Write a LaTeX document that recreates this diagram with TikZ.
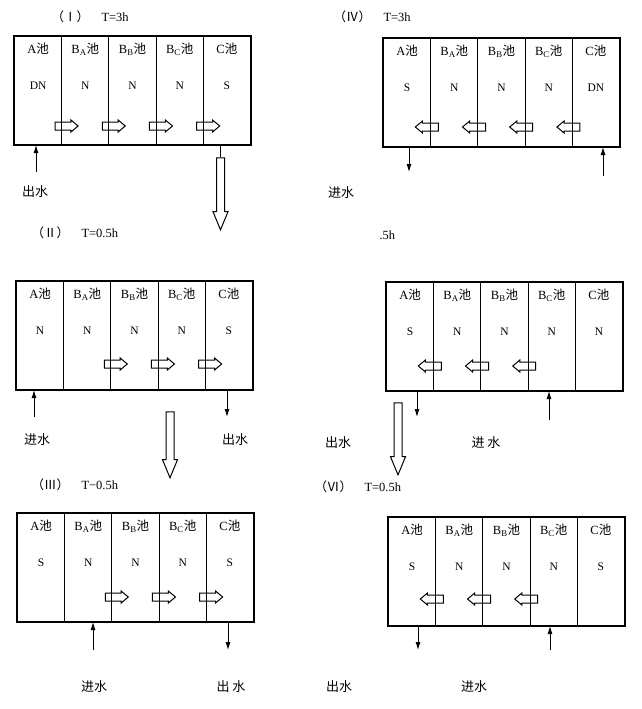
\documentclass[tikz,border=0pt]{standalone}
\usepackage{fontspec}
\setmainfont{Liberation Serif}
\newfontfamily\cjk{Noto Sans CJK SC}
\usetikzlibrary{
  arrows.meta,
  shapes.arrows
}

% one row of five pools: name, x, y of top left corner, states
\newcommand\poolrow[4]{%
  \foreach \st [count=\i] in {#4} {
    \node[cell] (#1-\i) at ({#2+(\i-1)*47.2},#3) {};
    \node[state] (#1s\i) at ([yshift=-50pt]#1-\i.north) {\st};
  }
  \foreach \nm [count=\i] in {A{\cjk 池},B\textsubscript{A}{\cjk 池},
      B\textsubscript{B}{\cjk 池},B\textsubscript{C}{\cjk 池},C{\cjk 池}}
    \node[tag] (#1n\i) at ([yshift=-13pt]#1-\i.north) {\nm};
  \draw[frame] (#1-1.north west) rectangle (#1-5.south east);
}

\begin{document}
\begin{tikzpicture}[
  x=1pt, y=-1pt,
  cell/.style = {draw, line width=1pt, anchor=north west, inner sep=0pt,
    minimum width=47.2pt, minimum height=108pt},
  frame/.style = {line width=1.6pt},
  tag/.style = {font=\fontsize{12.5}{14}\selectfont, inner sep=0pt},
  state/.style = {font=\fontsize{11.5}{13}\selectfont, inner sep=0pt},
  flow/.style = {single arrow, draw, line width=1pt, inner xsep=0pt,
    inner ysep=3.5pt, minimum height=23pt, single arrow head extend=2pt,
    single arrow tip angle=80},
  bigflow/.style = {flow, single arrow head extend=3.5pt,
    single arrow tip angle=45},
  pipe/.style = {line width=0.9pt, -{Latex[length=8pt,width=5pt]}},
  water/.style = {font=\cjk\fontsize{13}{15}\selectfont},
  title/.style = {anchor=west, font=\fontsize{12.5}{14}\selectfont}]
  \useasboundingbox (0,0) rectangle (642,709);

  % (I)
  \node[title] (tI) at (48,17) {{\cjk （Ⅰ）}\quad T=3h};
  \poolrow{pI}{14}{36}{DN,N,N,N,S}
  \foreach \i in {1,...,4}
    \node[flow] (pIf\i) at ([xshift=2pt,yshift=19pt]pI-\i.south east) {};
  \coordinate (pIin) at (36,172);
  \draw[pipe] (pIin) -- (pIin |- pI-1.south);
  \node[water] (wI) at (35,192) {出水};
  \node[bigflow, rotate=-90, minimum height=72pt] (gI) at (220.5,189) {};
  \draw[line width=0.9pt] (gI.tail |- pI-5.south) -- (gI.tail);

  % (IV)
  \node[title] (tIV) at (330,17) {{\cjk （Ⅳ）}\quad T=3h};
  \poolrow{pIV}{383}{38}{S,N,N,N,DN}
  \foreach \i in {1,...,4}
    \node[flow, rotate=180] (pIVf\i) at ([xshift=-2pt,yshift=20pt]pIV-\i.south east) {};
  \coordinate (pIVout) at (409,172);
  \coordinate (pIVin) at (603,176);
  \draw[pipe] (pIVout |- pIV-1.south) -- (pIVout);
  \draw[pipe] (pIVin) -- (pIVin |- pIV-5.south);
  \node[water] (wIV) at (341,193) {进水};

  % (II)
  \node[title] (tII) at (28,233) {{\cjk （Ⅱ）}\quad T=0.5h};
  \poolrow{pII}{16}{281}{N,N,N,N,S}
  \foreach \i in {2,3,4}
    \node[flow] (pIIf\i) at ([xshift=2pt,yshift=26pt]pII-\i.south east) {};
  \coordinate (pIIin) at (34,417);
  \coordinate (pIIout) at (227,417);
  \draw[pipe] (pIIin) -- (pIIin |- pII-1.south);
  \draw[pipe] (pIIout |- pII-5.south) -- (pIIout);
  \node[water] (wIIin) at (37,440) {进水};
  \node[water] (wIIout) at (235,440) {出水};
  \node[bigflow, rotate=-90, minimum height=66pt] (gII) at (170,440) {};

  % (V)
  \node[title] (tV) at (376,235) {.5h};
  \poolrow{pV}{386}{282}{S,N,N,N,N}
  \foreach \i in {1,2,3}
    \node[flow, rotate=180] (pVf\i) at ([xshift=-2pt,yshift=25pt]pV-\i.south east) {};
  \coordinate (pVout) at (417,417);
  \coordinate (pVin) at (549,420);
  \draw[pipe] (pVout |- pV-1.south) -- (pVout);
  \draw[pipe] (pVin) -- (pVin |- pV-4.south);
  \node[water] (wVout) at (338,443) {出水};
  \node[water] (wVin) at (486,443) {进\ 水};
  \node[bigflow, rotate=-90, minimum height=72pt] (gV) at (398,434) {};

  % (III)
  \node[title] (tIII) at (28,485) {{\cjk （Ⅲ）}\quad T−0.5h};
  \poolrow{pIII}{17}{513}{S,N,N,N,S}
  \foreach \i in {2,3,4}
    \node[flow] (pIIIf\i) at ([xshift=2pt,yshift=25pt]pIII-\i.south east) {};
  \coordinate (pIIIin) at (93,650);
  \coordinate (pIIIout) at (228,650);
  \draw[pipe] (pIIIin) -- (pIIIin |- pIII-2.south);
  \draw[pipe] (pIIIout |- pIII-5.south) -- (pIIIout);
  \node[water] (wIIIin) at (94,687) {进水};
  \node[water] (wIIIout) at (231,687) {出\ 水};

  % (VI)
  \node[title] (tVI) at (311,487) {{\cjk （Ⅵ）}\quad T=0.5h};
  \poolrow{pVI}{388}{517}{S,N,N,N,S}
  \foreach \i in {1,2,3}
    \node[flow, rotate=180] (pVIf\i) at ([xshift=-2pt,yshift=27pt]pVI-\i.south east) {};
  \coordinate (pVIout) at (418,650);
  \coordinate (pVIin) at (550,650);
  \draw[pipe] (pVIout |- pVI-1.south) -- (pVIout);
  \draw[pipe] (pVIin) -- (pVIin |- pVI-4.south);
  \node[water] (wVIout) at (339,687) {出水};
  \node[water] (wVIin) at (474,687) {进水};
\end{tikzpicture}
\end{document}
